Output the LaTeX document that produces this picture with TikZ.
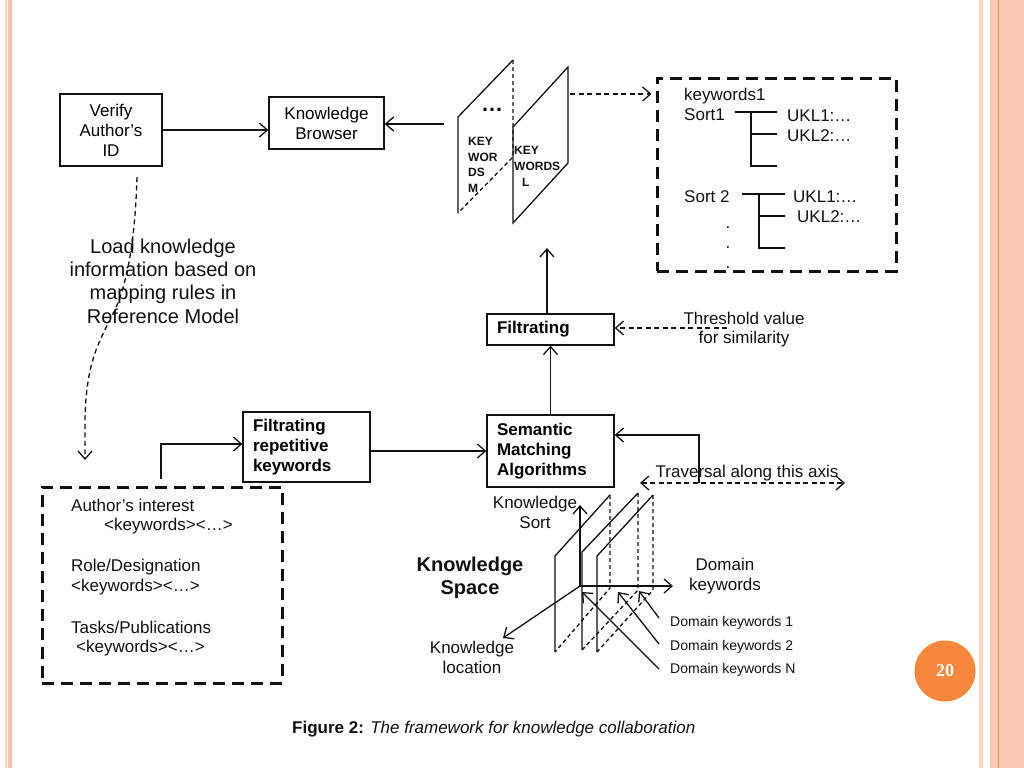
\documentclass[tikz,border=0pt]{standalone}
\usepackage{fontspec}
\setmainfont{Liberation Sans}
\newfontfamily\numfont{Liberation Serif}
\usetikzlibrary{arrows.meta}
\definecolor{pinkA}{HTML}{FCC9B4}
\definecolor{pinkB}{HTML}{FBD5C6}
\definecolor{pinkL}{HTML}{FAC1AA}
\definecolor{orangeL}{HTML}{F08A55}
\definecolor{badge}{HTML}{F7883B}
\definecolor{ink}{HTML}{111111}
\newcommand\myfs{\fontsize{17}{20}\selectfont}
\newcommand\mybig{\fontsize{20}{23.3}\selectfont}
\newcommand\mysm{\fontsize{14}{16}\selectfont}
\newcommand\mytiny{\fontsize{12}{15.4}\selectfont}
\begin{document}
\begin{tikzpicture}[x=1pt,y=-1pt,
  ln/.style={draw=ink, line width=1.3pt},
  arr/.style={ln, -{Straight Barb[length=8pt,width=14pt]}},
  darr/.style={ln, dash pattern=on 5pt off 3.5pt, -{Straight Barb[length=8pt,width=14pt]}},
  dln/.style={ln, dash pattern=on 4pt off 3pt},
  darr2/.style={ln, dash pattern=on 5pt off 3.5pt, {Straight Barb[length=8pt,width=14pt]}-{Straight Barb[length=8pt,width=14pt]}},
  box/.style={draw=ink, line width=1.3pt, inner sep=0pt, align=center, font=\myfs},
  lbox/.style={draw=ink, line width=1.3pt, text width=107pt, inner xsep=10pt, inner ysep=0pt, align=left, font=\myfs\bfseries},
  bigdash/.style={draw=ink, line width=3pt, dash pattern=on 12pt off 7pt, inner sep=0pt},
  txt/.style={font=\myfs, inner sep=0pt, text=ink},
]
\useasboundingbox (0,0) rectangle (1024,768);
\fill[white] (0,0) rectangle (1024,768);
% decorative stripes
\fill[pinkB] (5,0) rectangle (7,768);
\fill[pinkL] (8,0) rectangle (12,768);
\fill[pinkB] (979,0) rectangle (983,768);
\fill[pinkA] (990,0) rectangle (1024,768);
\fill[orangeL] (998,0) rectangle (999.3,768);
\node[circle, fill=badge, minimum size=61pt, inner sep=0pt, text=white, font=\numfont\bfseries\fontsize{18}{18}\selectfont] (page) at (945,671) {20};

% boxes
\node[box, minimum width=102, minimum height=72] (verify) at (111,130) {Verify\\Author’s\\ID};
\node[box, minimum width=115, minimum height=52] (browser) at (326.5,123) {Knowledge\\Browser};
\node[lbox, minimum height=31] (filt) at (550.5,329.5) {Filtrating};
\node[lbox, minimum height=72] (sem) at (550.5,451) {Semantic\\Matching\\Algorithms};
\node[lbox, minimum height=70] (frep) at (306.5,447) {Filtrating\\repetitive\\keywords};
\node[bigdash, minimum width=239, minimum height=193] (kbox) at (776.5,174.5) {};
\node[bigdash, minimum width=240, minimum height=196] (abox) at (162,585) {};

% keyword planes (top)
\draw[ln] (458,213) -- (458,117) -- (513,60);
\draw[dln] (513,60) -- (513,157) -- (458,213);
\draw[ln] (513,223) -- (513,127) -- (568,67) -- (568,163) -- cycle;
\node[txt, font=\fontsize{22}{22}\selectfont\bfseries] (dots) at (492,110) {…};
\node[txt, font=\mytiny\bfseries, align=left, anchor=north west] (kwm) at (468,137.5) {KEY\\WOR\\DS\\M};
\node[txt, font=\fontsize{12}{16}\selectfont\bfseries, align=left, anchor=north west] (kwl) at (514,146.5) {KEY\\WORDS\\\hspace{8pt}L};

% keyword tree box contents
\node[txt, anchor=base west] (kw1) at (684,100) {keywords1};
\node[txt, anchor=base west] (s1) at (684,120) {Sort1};
\node[txt, anchor=base west] (u11) at (787,121) {UKL1:…};
\node[txt, anchor=base west] (u12) at (787,141) {UKL2:…};
\node[txt, anchor=base west] (s2) at (684,202) {Sort 2};
\node[txt, anchor=base west] (u21) at (793,202) {UKL1:…};
\node[txt, anchor=base west] (u22) at (797,222) {UKL2:…};
\node[txt, anchor=base] (d1) at (728,228) {.};
\node[txt, anchor=base] (d2) at (728,248) {.};
\node[txt, anchor=base] (d3) at (728,268) {.};
\draw[ln] (735,112) -- (777,112);
\draw[ln] (751,112) -- (751,166) -- (777,166);
\draw[ln] (751,134) -- (777,134);
\draw[ln] (742,194) -- (785,194);
\draw[ln] (759,194) -- (759,248) -- (785,248);
\draw[ln] (759,216) -- (785,216);

% author box contents
\node[txt, anchor=base west] (a1) at (71,511) {Author’s interest};
\node[txt, anchor=base west] (a2) at (104,530) {<keywords><…>};
\node[txt, anchor=base west] (a3) at (71,571) {Role/Designation};
\node[txt, anchor=base west] (a4) at (71,591) {<keywords><…>};
\node[txt, anchor=base west] (a5) at (71,633) {Tasks/Publications};
\node[txt, anchor=base west] (a6) at (76,652) {<keywords><…>};

% free texts
\node[txt, font=\mybig, align=center] (load) at (163,281) {Load knowledge\\information based on\\mapping rules in\\Reference Model};
\node[txt, align=center, font=\fontsize{17}{19}\selectfont] (thr) at (744,330) {Threshold value\\for similarity};
\node[txt, anchor=base] (trav) at (747,477) {Traversal along this axis};

% connectors
\draw[arr] (verify.east) -- (verify.east -| browser.west);
\coordinate (pl) at (444,124);
\draw[arr] (pl) -- (pl -| browser.east);
\coordinate (pr) at (570,94);
\draw[darr, shorten >=4pt] (pr) -- (pr -| kbox.west);
\coordinate (ptip) at (547,248);
\draw[arr] (ptip |- filt.north) -- (ptip);
\coordinate (thrs) at (727,328);
\draw[darr] (thrs) -- (thrs -| filt.east);
\draw[arr] (sem.north) -- (sem.north |- filt.south);
\draw[arr] ([yshift=-4pt]frep.east) -- ([yshift=-4pt]frep.east -| sem.west);
\coordinate (ab) at (161,479);
\draw[arr] (ab) |- ([yshift=3pt]frep.west);
\coordinate (tv) at (699,483);
\draw[arr] (tv) |- ([yshift=16pt]sem.east);
\coordinate (t1) at (640,483);
\coordinate (t2) at (845,483);
\draw[darr2] (t1) -- (t2);
\coordinate (c1) at (137,177);
\coordinate (c2) at (85,460);
\draw[darr] (c1) .. controls (135,240) and (128,280) .. (115,310) .. controls (100,340) and (86,360) .. (85,420) -- (c2);

% knowledge space planes
\draw[ln] (555,652) -- (555,556) -- (610,495);
\draw[dln] (610,495) -- (610,588) -- (555,652);
\draw[ln] (582,650) -- (582,552) -- (638,493);
\draw[dln] (638,493) -- (638,590) -- (582,650);
\draw[ln] (597,652) -- (597,556) -- (653,495);
\draw[dln] (653,495) -- (653,590) -- (597,652);
% axes
\coordinate (O) at (580,586);
\coordinate (ax1) at (580,505);
\coordinate (ax2) at (673,586);
\coordinate (ax3) at (503,638);
\draw[arr] (O) -- (ax1);
\draw[arr] (O) -- (ax2);
\draw[arr] (O) -- (ax3);
\node[txt, align=center] (ksort) at (535,512) {Knowledge\\Sort};
\node[txt, align=center] (dkw) at (725,575.6) {Domain\\keywords};
\node[txt, align=center, font=\fontsize{20}{23}\selectfont\bfseries] (kspace) at (470,578.3) {Knowledge\\Space};
\node[txt, align=center] (kloc) at (472,657) {Knowledge\\location};
\node[txt, font=\mysm, anchor=base west] (dk1) at (670,626) {Domain keywords 1};
\node[txt, font=\mysm, anchor=base west] (dk2) at (670,650) {Domain keywords 2};
\node[txt, font=\mysm, anchor=base west] (dkn) at (670,673) {Domain keywords N};
\coordinate (k1s) at (659,618);
\coordinate (k1e) at (639,591);
\coordinate (k2s) at (659,644);
\coordinate (k2e) at (618,592);
\coordinate (kns) at (659,669);
\coordinate (kne) at (582,592);
\draw[arr] (k1s) -- (k1e);
\draw[arr] (k2s) -- (k2e);
\draw[arr] (kns) -- (kne);

% caption
\node[txt, anchor=base west] (cap) at (292,733) {\textbf{Figure 2:} \textit{The framework for knowledge collaboration}};
\end{tikzpicture}
\end{document}
